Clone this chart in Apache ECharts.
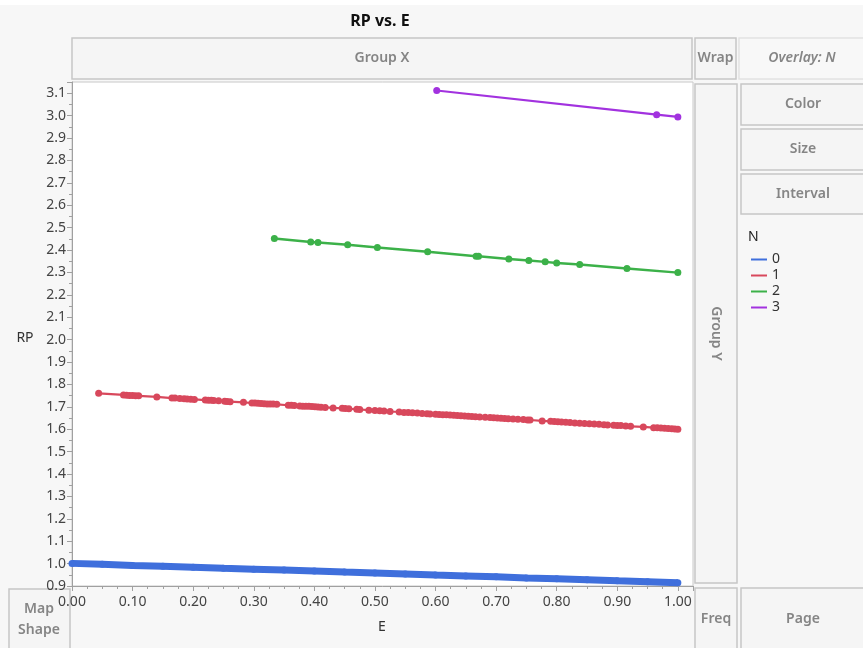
<!DOCTYPE html>
<html>
<head>
<meta charset="utf-8">
<script src="https://cdn.jsdelivr.net/npm/echarts@6/dist/echarts.min.js"></script>
<style>
html,body{margin:0;padding:0;background:#f7f7f7;}
#main{width:863px;height:648px;}
</style>
</head>
<body>
<div id="main"></div>
<script>
// N = 0
var e0 = [0.00,0.05,0.10,0.15,0.20,0.25,0.30,0.35,0.40,0.45,0.50,0.55,0.60,0.65,0.70,0.75,0.80,0.85,0.90,0.95,1.00];
var rp0 = [1.001,0.997,0.992,0.988,0.984,0.979,0.975,0.971,0.967,0.962,0.958,0.954,0.949,0.945,0.941,0.936,0.932,0.928,0.923,0.919,0.915];
// N = 1
var e1 = [0.044,0.085,0.090,0.095,0.100,0.105,0.110,0.140,0.165,0.170,0.178,0.185,0.190,0.196,0.202,0.220,0.225,0.230,0.234,0.242,
  0.252,0.256,0.261,0.283,0.297,0.302,0.307,0.312,0.317,0.322,0.327,0.332,0.338,0.357,0.362,0.367,0.376,0.381,0.386,0.391,
  0.396,0.401,0.406,0.411,0.418,0.431,0.446,0.451,0.457,0.470,0.475,0.490,0.500,0.508,0.515,0.525,0.540,0.548,0.555,0.562,
  0.570,0.578,0.586,0.591,0.600,0.606,0.612,0.618,0.624,0.630,0.636,0.642,0.648,0.654,0.660,0.666,0.673,0.682,0.690,0.696,
  0.702,0.708,0.714,0.720,0.728,0.736,0.745,0.752,0.756,0.776,0.790,0.796,0.802,0.808,0.815,0.822,0.830,0.838,0.846,0.854,
  0.862,0.870,0.878,0.884,0.894,0.900,0.906,0.914,0.922,0.943,0.960,0.966,0.972,0.978,0.984,0.990,0.995,1.000];
var rp1 = [1.760,1.753,1.752,1.751,1.750,1.749,1.749,1.744,1.739,1.739,1.737,1.736,1.735,1.734,1.733,1.730,1.729,1.729,1.728,1.727,
  1.725,1.724,1.723,1.720,1.717,1.717,1.716,1.715,1.714,1.713,1.712,1.712,1.711,1.707,1.707,1.706,1.704,1.703,1.703,1.702,
  1.701,1.700,1.699,1.698,1.697,1.695,1.693,1.692,1.691,1.689,1.688,1.685,1.684,1.682,1.681,1.679,1.677,1.675,1.674,1.673,
  1.672,1.670,1.669,1.668,1.667,1.666,1.665,1.664,1.663,1.662,1.661,1.660,1.659,1.658,1.657,1.656,1.655,1.653,1.652,1.651,
  1.650,1.649,1.648,1.647,1.645,1.644,1.643,1.641,1.641,1.637,1.635,1.634,1.633,1.632,1.631,1.630,1.628,1.627,1.626,1.624,
  1.623,1.622,1.620,1.619,1.618,1.617,1.616,1.614,1.613,1.610,1.607,1.606,1.605,1.604,1.603,1.602,1.601,1.600];
// N = 2
var e2 = [0.334,0.394,0.406,0.455,0.504,0.587,0.667,0.671,0.721,0.754,0.781,0.800,0.838,0.916,1.000];
var rp2 = [2.451,2.436,2.434,2.423,2.411,2.392,2.372,2.372,2.360,2.353,2.347,2.342,2.335,2.317,2.299];
// N = 3
var e3 = [0.602,0.965,1.000];
var rp3 = [3.112,3.004,2.994];

var groups = ['0','1','2','3'];
var colors = ['#3f6fdc','#d8485c','#3cb149','#a232df'];

var font = '"Noto Sans", "Open Sans", sans-serif';
var chart = echarts.init(document.getElementById('main'));

function pairs(xs, ys){
    var out = [];
    for(var a=0;a<xs.length;a++) out.push([xs[a], ys[a]]);
    return out;
}

// JMP drop-zone boxes
function box(x, y, w, h, label, opt){
    opt = opt || {};
    var els = [{
        type:'rect', shape:{x:x, y:y, width:w, height:h},
        style:{fill: opt.fill || '#f5f5f5', stroke: opt.stroke || '#c6c6c6', lineWidth:1.5}
    }];
    if(label){
        els.push({
            type:'text', x:x+w/2, y:y+h/2, rotation: opt.rot || 0,
            style:{text:label, textAlign:'center', textVerticalAlign:'middle',
                fill:'#858585', font:(opt.italic ? 'italic ' : '') + '600 14px ' + font}
        });
    }
    return els;
}

var graphics = [];
graphics.push({type:'rect', shape:{x:0,y:0,width:863,height:5}, style:{fill:'#ffffff'}});
graphics.push({type:'text', x:380, y:21, style:{text:'RP vs. E', textAlign:'center', textVerticalAlign:'middle', fill:'#111', font:'bold 16px ' + font}});
graphics = graphics.concat(
    box(72, 38, 620, 41, 'Group X'),
    box(695, 38, 41, 41, 'Wrap'),
    box(739, 38, 126, 41, 'Overlay: N', {italic:true, stroke:'#e2e2e2', fill:'#f8f8f8'}),
    box(695, 84, 42, 499, 'Group Y', {rot:-Math.PI/2}),
    box(741, 84, 124, 41, 'Color'),
    box(741, 129, 124, 41, 'Size'),
    box(741, 174, 124, 40, 'Interval'),
    box(9, 589, 61, 62, ''),
    box(695, 588, 42, 62, 'Freq'),
    box(741, 588, 124, 62, 'Page')
);
graphics.push({type:'text', x:39, y:609, style:{text:'Map', textAlign:'center', textVerticalAlign:'middle', fill:'#858585', font:'600 14px ' + font}});
graphics.push({type:'text', x:39, y:630, style:{text:'Shape', textAlign:'center', textVerticalAlign:'middle', fill:'#858585', font:'600 14px ' + font}});
graphics.push({type:'text', x:748, y:237, style:{text:'N', textVerticalAlign:'middle', fill:'#222', font:'14px ' + font}});
graphics.push({type:'text', x:382, y:627, style:{text:'E', textAlign:'center', textVerticalAlign:'middle', fill:'#333', font:'14px ' + font}});
graphics.push({type:'text', x:25, y:338, style:{text:'RP', textAlign:'center', textVerticalAlign:'middle', fill:'#333', font:'14px ' + font}});

var seriesData = [pairs(e0, rp0), pairs(e1, rp1), pairs(e2, rp2), pairs(e3, rp3)];
var lineW = [7, 2.2, 2.5, 2.2];
var symW = [7, 7, 7, 7];
var series = [];
for(var a=0;a<groups.length;a++){
    series.push({
        name: groups[a],
        type: 'line',
        data: seriesData[a],
        symbol: 'circle',
        symbolSize: symW[a],
        showAllSymbol: true,
        clip: false,
        lineStyle: {width: lineW[a], color: colors[a]},
        itemStyle: {color: colors[a]}
    });
}

var option = {
    animation: false,
    backgroundColor: '#f7f7f7',
    color: colors,
    textStyle: {fontFamily: font},
    grid: {
        left: 72, top: 82, right: 170, bottom: 62,
        show: true, backgroundColor: '#ffffff', borderColor: '#c8c8c8', borderWidth: 1
    },
    legend: {
        orient: 'vertical', left: 746, top: 247,
        icon: 'rect', itemWidth: 16, itemHeight: 2, itemGap: 1,
        data: groups,
        textStyle: {fontSize: 14, color: '#333', lineHeight: 15, fontFamily: font}
    },
    xAxis: {
        type: 'value', min: 0, max: 1.025, interval: 0.1,
        axisLine: {show: true, lineStyle: {color: '#a0a0a0'}},
        axisTick: {show: true, length: 5, lineStyle: {color: '#a0a0a0'}},
        minorTick: {show: true, splitNumber: 4, length: 3, lineStyle: {color: '#a0a0a0'}},
        splitLine: {show: false},
        axisLabel: {
            showMaxLabel: false, margin: 9, fontSize: 14, color: '#444', fontFamily: font,
            formatter: function(v){ return v.toFixed(2); }
        }
    },
    yAxis: {
        type: 'value', min: 0.9, max: 3.15, interval: 0.1,
        axisLine: {show: true, lineStyle: {color: '#a0a0a0'}},
        axisTick: {show: true, length: 5, lineStyle: {color: '#a0a0a0'}},
        minorTick: {show: true, splitNumber: 2, length: 3, lineStyle: {color: '#a0a0a0'}},
        splitLine: {show: false},
        axisLabel: {
            showMaxLabel: false, margin: 6, fontSize: 14, color: '#444', fontFamily: font,
            formatter: function(v){ return v.toFixed(1); }
        }
    },
    graphic: graphics,
    series: series
};
chart.setOption(option, true);
</script>
</body>
</html>
